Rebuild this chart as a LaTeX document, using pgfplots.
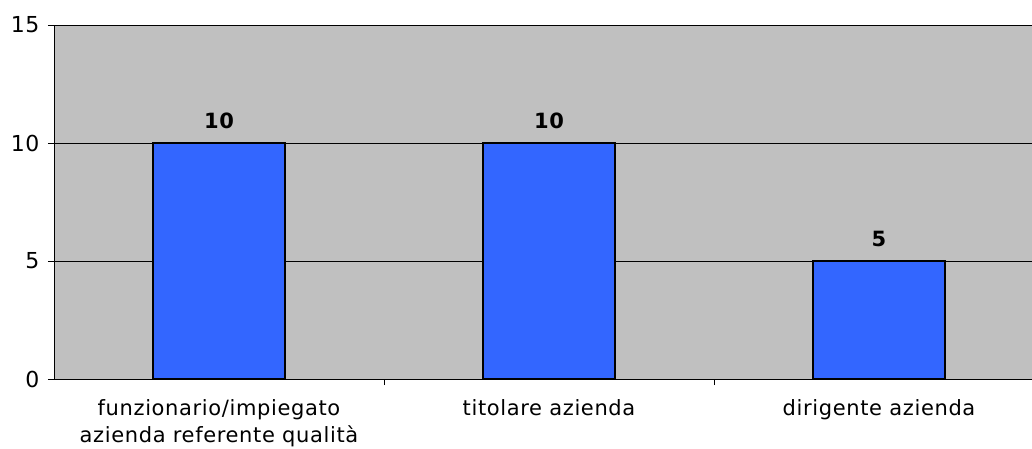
\documentclass[border=0pt]{standalone}
\usepackage{pgfplots}
\pgfplotsset{compat=1.18}
\usepackage{fontspec}
\setmainfont{DejaVu Sans}[LetterSpace=3]
\definecolor{bgc}{HTML}{C0C0C0}
\definecolor{barc}{HTML}{3366FF}
\definecolor{topg}{HTML}{808080}
\begin{document}
\begin{tikzpicture}[x=1pt,y=1pt]
\begin{axis}[
  at={(54pt,69pt)}, anchor=south west,
  scale only axis, width=978pt, height=354pt,
  xmin=-0.5, xmax=2.4636, ymin=0, ymax=15,
  axis x line*=bottom, axis y line*=left,
  axis line style={black, -},
  axis background/.style={fill=bgc},
  ytick={0,5,10},
  extra y ticks={15},
  extra y tick style={grid style={topg, line width=1.2pt}},
  ymajorgrids, major grid style={black, line width=0.6pt},
  y tick label style={font=\fontsize{22}{24}\selectfont, xshift=-5pt},
  /pgf/number format/assume math mode=true,
  xtick={0.5,1.5}, xticklabels={,},
  major tick length=6pt,
  tick align=outside, tick style={black, line width=0.6pt},
  extra x ticks={0,1,2},
  extra x tick labels={funzionario/impiegato\\azienda referente qualità, titolare azienda, dirigente azienda},
  extra x tick style={major tick length=0pt, grid=none, tick label style={font=\fontsize{21}{27}\selectfont, align=center, yshift=-17pt, anchor=north}},
  ybar, bar width=0.4,
  nodes near coords,
  nodes near coords style={font=\fontsize{21}{24}\selectfont\bfseries, yshift=10pt},
  clip=false,
]
\addplot[fill=barc, draw=black, line width=1.2pt] coordinates {(0,10) (1,10) (2,5)};
\end{axis}
\pgfresetboundingbox
\useasboundingbox (0,0) rectangle (1032pt,448pt);
\end{tikzpicture}
\end{document}
